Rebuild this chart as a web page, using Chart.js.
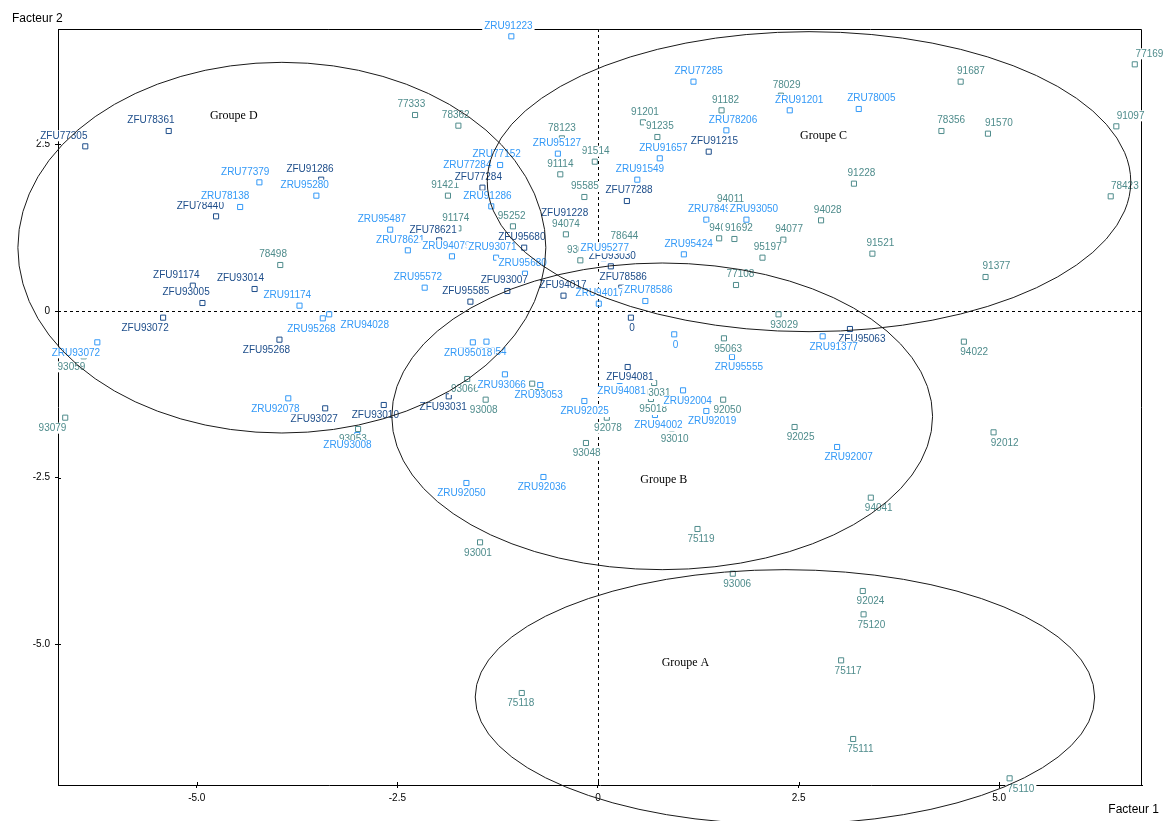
<!DOCTYPE html>
<html>
<head>
<meta charset="utf-8">
<style>
  html, body { margin: 0; padding: 0; background: #fff; }
  canvas { display: block; }
</style>
<script src="https://cdn.jsdelivr.net/npm/chart.js@4.4.0/dist/chart.umd.min.js"></script>
</head>
<body>
<canvas id="plan" width="1168" height="821"></canvas>
<script>
// Zones franches urbaines (ZFU)
const zfuNames = ['ZFU77305','ZFU78361','ZFU91286','ZFU78440','ZFU91174','ZFU93014','ZFU93005','ZFU93072',
  'ZFU95268','ZFU93027','ZFU93010','ZFU93031','ZFU95585','ZFU93007','ZFU94017','ZFU78621','ZFU77284',
  'ZFU95680','ZFU91228','ZFU77288','ZFU91215','ZFU93030','ZFU78586','0','ZFU94081','ZFU95063'];
const zfuF1 = [-6.39,-5.35,-3.45,-4.76,-5.05,-4.28,-4.93,-5.42,-3.97,-3.40,-2.67,-1.86,-1.59,-1.13,-0.43,-1.98,-1.44,
  -0.92,-0.41,0.36,1.38,0.16,0.29,0.41,0.37,3.14];
const zfuF2 = [2.47,2.70,1.97,1.42,0.38,0.33,0.12,-0.10,-0.43,-1.46,-1.41,-1.28,0.14,0.30,0.23,1.06,1.85,
  0.95,1.31,1.65,2.39,0.67,0.35,-0.10,-0.84,-0.27];

// Zones de redynamisation urbaine (ZRU)
const zruNames = ['ZRU77379','ZRU78138','ZRU95280','ZRU91174','ZRU93072','ZRU95268','ZRU94028','ZRU92078',
  'ZRU93008','ZRU95572','ZRU95487','ZRU78621','ZRU94079','ZRU91286','ZRU77284','ZRU77152','ZRU91223',
  'ZRU93071','ZRU95680','ZRU95127','ZRU95277','ZRU94017','ZRU78586','ZRU93054','ZRU95018','ZRU93066',
  'ZRU93053','ZRU92050','ZRU92036','ZRU92025','ZRU94081','ZRU94002','ZRU92004','ZRU92019','ZRU92007',
  'ZRU91377','ZRU95555','0','ZRU95424','ZRU78498','ZRU93050','ZRU91549','ZRU91657','ZRU78206',
  'ZRU77285','ZRU91201','ZRU78005'];
const zruF1 = [-4.22,-4.46,-3.51,-3.72,-6.24,-3.43,-3.35,-3.86,-3.00,-2.16,-2.59,-2.37,-1.82,-1.33,-1.57,-1.22,-1.08,
  -1.27,-0.91,-0.50,0.07,0.01,0.59,-1.39,-1.56,-1.16,-0.72,-1.64,-0.68,-0.17,0.27,0.71,1.06,1.35,2.98,
  2.80,1.67,0.95,1.07,1.35,1.85,0.49,0.77,1.60,1.19,2.39,3.25];
const zruF2 = [1.93,1.56,1.73,0.08,-0.47,-0.11,-0.05,-1.31,-1.86,0.35,1.22,0.91,0.82,1.57,2.03,2.19,4.12,
  0.80,0.56,2.36,0.79,0.11,0.15,-0.46,-0.47,-0.95,-1.11,-2.58,-2.49,-1.35,-1.05,-1.56,-1.19,-1.50,-2.04,
  -0.38,-0.69,-0.35,0.85,1.37,1.37,1.97,2.29,2.71,3.44,3.01,3.03];

// Communes (code INSEE)
const comNames = ['78498','93059','93079','93053','93066','93008','93048','93001','77333','78362','91421','91174',
  '95252','78123','91114','91514','95585','94074','93070','78644','91201','91235','91182','78029','94011',
  '94078','91692','94077','95197','94028','91228','91521','77108','93029','95063','93031','95018','92050',
  '93010','92078','92025','94041','75119','93006','92024','75120','75117','75111','75110','75118','94022',
  '92012','91377','91687','78356','91570','77169','91097','78423','93050'];
const comF1 = [-3.96,-6.41,-6.64,-2.99,-1.63,-1.40,-0.15,-1.47,-2.28,-1.74,-1.87,-1.74,
  -1.06,-0.45,-0.47,-0.04,-0.17,-0.40,-0.22,0.31,0.56,0.74,1.54,2.28,1.60,
  1.51,1.70,2.31,2.05,2.78,3.19,3.42,1.72,2.25,1.57,0.70,0.66,1.56,
  0.92,0.11,2.45,3.40,1.24,1.68,3.30,3.31,3.03,3.18,5.13,-0.95,4.56,
  4.93,4.83,4.52,4.28,4.86,6.69,6.46,6.39,-0.82];
const comF2 = [0.69,-0.68,-1.60,-1.77,-1.02,-1.33,-1.98,-3.47,2.94,2.78,1.73,1.24,
  1.27,2.59,2.05,2.24,1.71,1.15,0.76,0.97,2.83,2.61,3.01,3.23,1.52,
  1.09,1.08,1.07,0.80,1.36,1.91,0.86,0.39,-0.05,-0.41,-1.08,-1.32,-1.33,
  -1.76,-1.60,-1.74,-2.80,-3.27,-3.94,-4.20,-4.55,-5.24,-6.42,-7.01,-5.73,-0.46,
  -1.82,0.51,3.44,2.70,2.66,3.70,2.77,1.72,-1.09];

// Groupes : centre et demi-axes des ellipses, position du libellé
const groupNames = ['Groupe A','Groupe B','Groupe C','Groupe D'];
const groupCx = [2.33, 0.80, 2.63, -3.94];
const groupCy = [-5.79, -1.58, 1.94, 0.95];
const groupRx = [3.86, 3.37, 4.01, 3.29];
const groupRy = [1.91, 2.30, 2.25, 2.78];
const groupLabelX = [1.09, 0.82, 2.81, -4.54];
const groupLabelY = [-5.28, -2.53, 2.62, 2.93];

// Axes
const xTickValues = [-5, -2.5, 0, 2.5, 5];
const xTickLabels = ['-5.0', '-2.5', '0', '2.5', '5.0'];
const yTickValues = [2.5, 0, -2.5, -5];
const yTickLabels = ['2.5', '0', '-2.5', '-5.0'];
const xTitle = 'Facteur 1';
const yTitle = 'Facteur 2';

const COLORS = { zfu: '#1d4d8a', zru: '#3399f7', com: '#4f8c8c' };
const LABEL_FONT = '10px "Liberation Sans", Arial, sans-serif';

function points(xs, ys, names) {
  return xs.map((v, i) => ({ x: v, y: ys[i], name: names[i] }));
}

function series(label, xs, ys, names, color) {
  return {
    label,
    data: points(xs, ys, names),
    pointStyle: 'rect',
    pointRadius: 3.6,
    pointHoverRadius: 3.6,
    pointBorderWidth: 1,
    borderColor: color,
    pointBorderColor: color,
    pointBackgroundColor: 'rgba(255,255,255,0)',
    showLine: false
  };
}

// a label that would sit almost exactly on an earlier one is slid to its right
function placeLabel(box, placed) {
  for (const p of placed) {
    const ox = Math.min(box.x + box.w, p.x + p.w) - Math.max(box.x, p.x);
    const oy = Math.min(box.y + box.h, p.y + p.h) - Math.max(box.y, p.y);
    if (oy >= 5 && ox >= 0.8 * Math.max(box.w, p.w)) {
      box.x = p.x + p.w + 1;
    }
  }
  placed.push(box);
  return box;
}

const overlay = {
  id: 'overlay',
  beforeDatasetsDraw(chart) {
    const { ctx, chartArea: a, scales: { x, y } } = chart;
    ctx.save();
    ctx.strokeStyle = '#000';
    ctx.lineWidth = 1;
    // top and right frame
    const top = Math.round(a.top) + 0.5, right = Math.round(a.right) - 0.5;
    ctx.beginPath();
    ctx.moveTo(a.left, top); ctx.lineTo(right, top); ctx.lineTo(right, a.bottom);
    ctx.stroke();
    // inner half of the tick marks
    xTickValues.forEach(v => {
      const px = Math.round(x.getPixelForValue(v)) + 0.5;
      ctx.beginPath(); ctx.moveTo(px, a.bottom); ctx.lineTo(px, a.bottom - 3); ctx.stroke();
    });
    yTickValues.forEach(v => {
      const py = Math.round(y.getPixelForValue(v)) + 0.5;
      ctx.beginPath(); ctx.moveTo(a.left, py); ctx.lineTo(a.left + 3, py); ctx.stroke();
    });
    // origin lines
    ctx.setLineDash([3, 3]);
    const y0 = Math.round(y.getPixelForValue(0)) + 0.5;
    const x0 = Math.round(x.getPixelForValue(0)) + 0.5;
    ctx.beginPath(); ctx.moveTo(a.left, y0); ctx.lineTo(a.right, y0); ctx.stroke();
    ctx.beginPath(); ctx.moveTo(x0, a.top); ctx.lineTo(x0, a.bottom); ctx.stroke();
    ctx.restore();
  },
  afterDatasetsDraw(chart) {
    const { ctx, chartArea: a, scales: { x, y } } = chart;
    ctx.save();
    // point labels on a white plate
    ctx.font = LABEL_FONT;
    ctx.textBaseline = 'middle';
    ctx.textAlign = 'left';
    const span = a.right - a.left;
    const placed = [];
    chart.data.datasets.forEach((ds, di) => {
      const meta = chart.getDatasetMeta(di);
      ds.data.forEach((d, i) => {
        const el = meta.data[i];
        const w = ctx.measureText(d.name).width;
        const t = (el.x - a.left) / span;
        const ly = d.y >= 0 ? el.y - 10.5 : el.y + 10.5;
        const box = placeLabel({ x: el.x - w * (1 - t) - 1, y: ly - 5.5, w: w + 4, h: 11 }, placed);
        ctx.fillStyle = '#fff';
        ctx.fillRect(box.x, box.y, box.w, box.h);
        ctx.fillStyle = ds.pointBorderColor;
        ctx.fillText(d.name, box.x + 2, ly);
      });
    });
    // group ellipses
    ctx.strokeStyle = '#1a1a1a';
    ctx.lineWidth = 1;
    groupNames.forEach((g, i) => {
      const cx = x.getPixelForValue(groupCx[i]);
      const cy = y.getPixelForValue(groupCy[i]);
      const rx = Math.abs(x.getPixelForValue(groupCx[i] + groupRx[i]) - cx);
      const ry = Math.abs(y.getPixelForValue(groupCy[i] + groupRy[i]) - cy);
      ctx.beginPath();
      ctx.ellipse(cx, cy, rx, ry, 0, 0, Math.PI * 2);
      ctx.stroke();
    });
    ctx.fillStyle = '#000';
    ctx.font = '12px "Liberation Serif", "Times New Roman", serif';
    ctx.textAlign = 'center';
    groupNames.forEach((g, i) => {
      ctx.fillText(g, x.getPixelForValue(groupLabelX[i]), y.getPixelForValue(groupLabelY[i]));
    });
    // axis titles
    ctx.font = '12px "Liberation Sans", Arial, sans-serif';
    ctx.textAlign = 'left';
    ctx.fillText(yTitle, a.left - 46, a.top - 10);
    ctx.textAlign = 'right';
    ctx.fillText(xTitle, a.right + 17, a.bottom + 25);
    ctx.restore();
  }
};

const tickFont = { family: '"Liberation Sans", Arial, sans-serif', size: 10 };

new Chart(document.getElementById('plan'), {
  type: 'scatter',
  data: {
    datasets: [
      series('Communes', comF1, comF2, comNames, COLORS.com),
      series('ZFU', zfuF1, zfuF2, zfuNames, COLORS.zfu),
      series('ZRU', zruF1, zruF2, zruNames, COLORS.zru)
    ]
  },
  options: {
    responsive: false,
    animation: false,
    devicePixelRatio: 1,
    layout: { padding: { top: 29, right: 26, left: 0, bottom: 0 } },
    plugins: { legend: { display: false }, tooltip: { enabled: false } },
    events: [],
    scales: {
      x: {
        type: 'linear',
        min: -6.73, max: 6.78,
        afterBuildTicks: s => { s.ticks = xTickValues.map(v => ({ value: v })); },
        afterFit: s => { s.height = 36; },
        ticks: {
          autoSkip: false, maxRotation: 0, padding: 4, color: '#000', font: tickFont,
          callback: v => xTickLabels[xTickValues.indexOf(v)]
        },
        grid: { display: true, drawOnChartArea: false, drawTicks: true, tickLength: 3, color: '#000' },
        border: { display: true, color: '#000', width: 1 }
      },
      y: {
        type: 'linear',
        min: -7.11, max: 4.23,
        afterBuildTicks: s => { s.ticks = yTickValues.map(v => ({ value: v })); },
        afterFit: s => { s.width = 58; },
        ticks: {
          autoSkip: false, padding: 5, color: '#000', font: tickFont,
          callback: v => yTickLabels[yTickValues.indexOf(v)]
        },
        grid: { display: true, drawOnChartArea: false, drawTicks: true, tickLength: 3, color: '#000' },
        border: { display: true, color: '#000', width: 1 }
      }
    }
  },
  plugins: [overlay]
});
</script>
</body>
</html>
